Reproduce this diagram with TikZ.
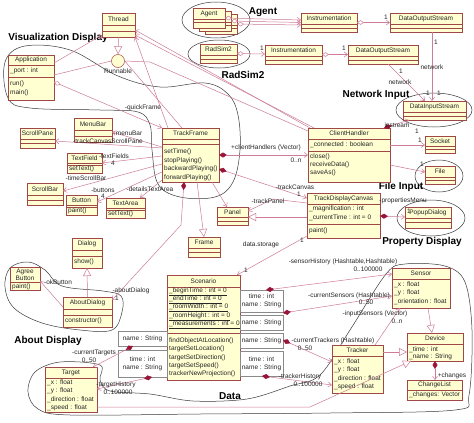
\documentclass[tikz,border=0pt]{standalone}
\usepackage{fontspec}
\setmainfont{Liberation Sans}
\usetikzlibrary{arrows.meta}
\definecolor{cfill}{HTML}{FFFFD2}
\definecolor{cdraw}{HTML}{A04848}
\definecolor{lcol}{HTML}{CC7C96}
\definecolor{dcol}{HTML}{9A1438}
\definecolor{qdraw}{HTML}{8A8A8A}
\definecolor{rcol}{HTML}{3A3A3A}
\tikzset{
 clsbox/.style={draw=cdraw, fill=cfill, line width=0.5pt, inner sep=0pt, outer sep=0pt, rectangle},
 qbox/.style={draw=qdraw, fill=white, line width=0.5pt, inner sep=0pt, outer sep=0pt, rectangle},
 sepl/.style={draw=cdraw, line width=0.4pt},
 ct/.style={font=\fontsize{6.5}{8}\selectfont, inner sep=0pt, text=black!85},
 rl/.style={font=\bfseries\fontsize{10}{12}\selectfont, inner sep=0pt},
 region/.style={draw=rcol, line width=0.5pt},
 conn/.style={draw=lcol, line width=0.5pt},
 nav/.style={conn, -{Straight Barb[length=3.5pt,width=5pt]}},
 hdn/.style={conn, {Diamond[open,fill=white,length=7pt,width=4.5pt]}-{Straight Barb[length=3.5pt,width=5pt]}},
 fdn/.style={conn, {Diamond[color=dcol,length=8pt,width=5pt]}-{Straight Barb[length=3.5pt,width=5pt]}},
 gen/.style={conn, -{Triangle[open,fill=white,length=8pt,width=8pt]}},
}
\newcommand\ubox[5]{\node[clsbox,anchor=north west,minimum width=#4pt,minimum height=#5pt] (#1) at (#2,#3) {};}
\newcommand\qqbox[5]{\node[qbox,anchor=north west,minimum width=#4pt,minimum height=#5pt] (#1) at (#2,#3) {};}
\newcommand\usep[2]{\draw[sepl] ([yshift=-#2pt]#1.north west) -- ([yshift=-#2pt]#1.north east);}
\newcommand\cname[4]{\node[ct] (#1) at ([yshift=-#3pt]#2.north) {#4};}
\newcommand\catt[4]{\node[ct,anchor=west] (#1) at ([xshift=2pt,yshift=-#3pt]#2.north west) {#4};}
\begin{document}
\begin{tikzpicture}[x=1pt,y=-1pt]
\useasboundingbox (0,0) rectangle (474,423);
\fill[white] (0,0) rectangle (474,423);

% ---------- regions ----------
\draw[region] plot[smooth cycle, tension=0.6] coordinates {(5,62) (25,46) (70,50) (118,76) (160,87) (205,83) (228,94) (238,115) (240,150) (233,182) (215,197) (180,197) (158,184) (152,150) (150,125) (138,112) (100,110) (30,108) (8,98)};
\draw[region] (216,20) ellipse [x radius=34pt, y radius=18pt];
\draw[region] (219,54) ellipse [x radius=31pt, y radius=14pt];
\draw[region] (434,110) ellipse [x radius=38pt, y radius=17pt];
\draw[region] (439,176) ellipse [x radius=24pt, y radius=16pt];
\draw[region] (431,218) ellipse [x radius=34pt, y radius=18pt];
\draw[region] plot[smooth cycle, tension=0.6] coordinates {(103,291) (62,286) (45,270) (28,262) (10,268) (5,287) (14,308) (42,323) (80,330) (112,330) (122,312) (121,296)};
\draw[region] plot[smooth cycle, tension=0.55] coordinates {(100,365) (60,362) (35,372) (28,392) (38,409) (70,415) (200,414) (330,413) (455,410) (469,395) (472,330) (465,282) (445,266) (405,264) (386,274) (350,330) (320,375) (290,386) (247,399) (193,401) (150,394) (110,391) (100,380)};

\node[rl] (lvis) at (58,38) {Visualization Display};
\node[rl] (lagent) at (263,12) {Agent};
\node[rl] (lrad) at (243,75) {RadSim2};
\node[rl] (lnet) at (376,95) {Network Input};
\node[rl] (lfile) at (401,187) {File Input};
\node[rl] (lprop) at (422,242) {Property Display};
\node[rl] (labout) at (48,341) {About Display};
\node[rl] (ldata) at (230,396) {Data};

% ---------- classes ----------
\ubox{thread}{102}{13}{33}{24}\usep{thread}{12}\usep{thread}{18}
\cname{thread-n}{thread}{6}{Thread}
\node[draw=cdraw, fill=cfill, circle, minimum size=13pt, inner sep=0pt, line width=0.5pt] (runnable) at (118,61) {};
\node[ct] (runnable-l) at (118,71.5) {Runnable};

\ubox{application}{8}{55}{46}{45}\usep{application}{10}\usep{application}{22}
\cname{app-n}{application}{5}{Application}
\catt{app-a}{application}{16}{\_port : int}
\catt{app-m1}{application}{29}{run()}
\catt{app-m2}{application}{38}{main()}

\ubox{agent3}{205}{14}{32}{20}\usep{agent3}{11}\usep{agent3}{14}
\ubox{agent2}{199}{11}{32}{20}\usep{agent2}{11}\usep{agent2}{14}
\ubox{agent}{193}{8}{32}{20}\usep{agent}{11}\usep{agent}{14}
\cname{agent-n}{agent}{5.5}{Agent}

\ubox{instr1}{301}{13}{56}{19}\usep{instr1}{11}\usep{instr1}{15}
\cname{instr1-n}{instr1}{5.5}{Instrumentation}
\ubox{dos1}{390}{13}{72}{19}\usep{dos1}{11}\usep{dos1}{15}
\cname{dos1-n}{dos1}{5.5}{DataOutputStream}
\ubox{radsim}{200}{44}{37}{19}\usep{radsim}{11}\usep{radsim}{15}
\cname{radsim-n}{radsim}{5.5}{RadSim2}
\ubox{instr2}{265}{45}{57}{19}\usep{instr2}{11}\usep{instr2}{15}
\cname{instr2-n}{instr2}{5.5}{Instrumentation}
\ubox{dos2}{348}{45}{70}{19}\usep{dos2}{11}\usep{dos2}{15}
\cname{dos2-n}{dos2}{5.5}{DataOutputStream}
\ubox{dis}{403}{101}{63}{19}\usep{dis}{11}\usep{dis}{15}
\cname{dis-n}{dis}{5.5}{DataInputStream}

\ubox{client}{308}{128}{82}{54}\usep{client}{11}\usep{client}{23}
\cname{client-n}{client}{5.5}{ClientHandler}
\catt{client-a}{client}{17}{\_connected : boolean}
\catt{client-m1}{client}{29}{close()}
\catt{client-m2}{client}{37}{receiveData()}
\catt{client-m3}{client}{45}{saveAs()}
\ubox{socket}{425}{136}{30}{17}\usep{socket}{10}\usep{socket}{13.5}
\cname{socket-n}{socket}{5}{Socket}
\ubox{file}{425}{166}{30}{18}\usep{file}{11}\usep{file}{14.5}
\cname{file-n}{file}{5.5}{File}

\ubox{tdc}{307}{193}{73}{45}\usep{tdc}{11}\usep{tdc}{31}
\cname{tdc-n}{tdc}{5.5}{TrackDisplayCanvas}
\catt{tdc-a1}{tdc}{16}{\_magnification : int}
\catt{tdc-a2}{tdc}{25}{\_currentTime : int = 0}
\catt{tdc-m1}{tdc}{38}{paint()}
\ubox{popup}{405}{207}{46}{21}\usep{popup}{11}\usep{popup}{15.5}
\cname{popup-n}{popup}{5.5}{PopupDialog}

\ubox{trackframe}{162}{128}{57}{54}\usep{trackframe}{11}\usep{trackframe}{16}
\cname{tf-n}{trackframe}{5.5}{TrackFrame}
\catt{tf-m1}{trackframe}{24}{setTime()}
\catt{tf-m2}{trackframe}{32.5}{stopPlaying()}
\catt{tf-m3}{trackframe}{41}{backwardPlaying()}
\catt{tf-m4}{trackframe}{49.5}{forwardPlaying()}

\ubox{menubar}{74}{118}{38}{24}\usep{menubar}{12}\usep{menubar}{18}
\cname{menubar-n}{menubar}{6}{MenuBar}
\ubox{scrollpane}{20}{128}{35}{20}\usep{scrollpane}{11}\usep{scrollpane}{15.5}
\cname{scrollpane-n}{scrollpane}{5.5}{ScrollPane}
\ubox{textfield}{67}{153}{35}{20}\usep{textfield}{10}\usep{textfield}{12}
\cname{textfield-n}{textfield}{5}{TextField}
\catt{textfield-m}{textfield}{16}{setText()}
\ubox{scrollbar}{27}{183}{36}{22}\usep{scrollbar}{12}\usep{scrollbar}{17}
\cname{scrollbar-n}{scrollbar}{6}{ScrollBar}
\ubox{button}{66}{195}{31}{20}\usep{button}{10}\usep{button}{12}
\cname{button-n}{button}{5}{Button}
\catt{button-m}{button}{16}{paint()}
\ubox{textarea}{106}{198}{39}{20}\usep{textarea}{10}\usep{textarea}{12}
\cname{textarea-n}{textarea}{5}{TextArea}
\catt{textarea-m}{textarea}{16}{setText()}

\ubox{dialog}{72}{238}{30}{30}\usep{dialog}{12}\usep{dialog}{18}
\cname{dialog-n}{dialog}{6}{Dialog}
\catt{dialog-m}{dialog}{24}{show()}
\ubox{aboutdlg}{63}{297}{49}{30}\usep{aboutdlg}{12}\usep{aboutdlg}{18}
\cname{aboutdlg-n}{aboutdlg}{6}{AboutDialog}
\catt{aboutdlg-m}{aboutdlg}{24}{constructor()}
\ubox{agree}{10}{267}{30}{23}\usep{agree}{15.5}
\node[ct, align=center] (agree-n) at ([yshift=-8pt]agree.north) {Agree\\[-1pt]Button};
\catt{agree-m}{agree}{19.5}{paint()}

\ubox{frame}{188}{237}{32}{20}\usep{frame}{11}\usep{frame}{15.5}
\cname{frame-n}{frame}{5.5}{Frame}
\ubox{panel}{217}{207}{31}{18}\usep{panel}{10}\usep{panel}{14}
\cname{panel-n}{panel}{5}{Panel}

\ubox{scenario}{167}{275}{73}{105}\usep{scenario}{12}\usep{scenario}{58}
\cname{scen-n}{scenario}{6}{Scenario}
\catt{scen-a1}{scenario}{16.5}{\underline{\_beginTime : int = 0}}
\catt{scen-a2}{scenario}{24.8}{\underline{\_endTime : int = 0}}
\catt{scen-a3}{scenario}{33.1}{\underline{\_roomWidth : int = 0}}
\catt{scen-a4}{scenario}{41.4}{\underline{\_roomHeight : int = 0}}
\catt{scen-a5}{scenario}{49.7}{\underline{\_measurements : int = 0}}
\catt{scen-m1}{scenario}{66}{findObjectAtLocation()}
\catt{scen-m2}{scenario}{74.3}{targetSetLocation()}
\catt{scen-m3}{scenario}{82.6}{targetSetDirection()}
\catt{scen-m4}{scenario}{90.9}{targetSetSpeed()}
\catt{scen-m5}{scenario}{99.2}{trackerNewProjection()}

\qqbox{ql1}{118}{331}{49}{15}\node[ct] (ql1-t) at (ql1.center) {name : String};
\qqbox{ql2}{118}{350}{49}{27}\node[ct, align=center] (ql2-t) at (ql2.center) {time : int\\name : String};
\qqbox{q1}{240}{290}{43}{22}\node[ct, align=center] (q1-t) at (q1.center) {time : int\\name : String};
\qqbox{q2}{240}{315}{43}{15}\node[ct] (q2-t) at (q2.center) {name : String};
\qqbox{q3}{240}{333}{43}{15}\node[ct] (q3-t) at (q3.center) {name : String};
\qqbox{q4}{240}{351}{43}{25}\node[ct, align=center] (q4-t) at (q4.center) {time : int\\name : String};

\ubox{target}{45}{367}{52}{45}\usep{target}{11}
\cname{target-n}{target}{5.5}{Target}
\catt{target-a1}{target}{16}{\_x : float}
\catt{target-a2}{target}{24}{\_y : float}
\catt{target-a3}{target}{32.5}{\_direction : float}
\catt{target-a4}{target}{40.5}{\_speed : float}

\ubox{sensor}{392}{268}{58}{40}\usep{sensor}{11}
\cname{sensor-n}{sensor}{5.5}{Sensor}
\catt{sensor-a1}{sensor}{17}{\_x : float}
\catt{sensor-a2}{sensor}{25}{\_y : float}
\catt{sensor-a3}{sensor}{33.5}{\_orientation : float}
\ubox{device}{407}{333}{56}{28}\usep{device}{11}
\cname{device-n}{device}{5.5}{Device}
\catt{device-a1}{device}{16.5}{\_time : int}
\catt{device-a2}{device}{24}{\_name : String}
\ubox{changelist}{407}{380}{55}{20}\usep{changelist}{10}
\cname{cl-n}{changelist}{5}{ChangeList}
\catt{cl-a1}{changelist}{15}{\_changes: Vector}
\ubox{tracker}{332}{345}{51}{48}\usep{tracker}{11}
\cname{tracker-n}{tracker}{5.5}{Tracker}
\catt{tracker-a1}{tracker}{17}{\_x : float}
\catt{tracker-a2}{tracker}{25}{\_y : float}
\catt{tracker-a3}{tracker}{33.5}{\_direction : float}
\catt{tracker-a4}{tracker}{41.5}{\_speed : float}

% ---------- connectors ----------
% top area
\draw[nav] ([shift={(0,8)}]application.north east) -- ([shift={(0,22)}]thread.north west);
\draw[conn] ([shift={(0,20)}]application.north east) -- (runnable.west);
\draw[gen] (thread.south) -- (runnable.north);
\draw[nav] ([shift={(2,0)}]client.north west) -- ([shift={(0,17)}]thread.north east);
\draw[nav] ([shift={(6,0)}]client.north west) -- ([shift={(0,22)}]thread.north east);
\draw[conn] (runnable.east) -- (150,62) -- ([shift={(0,3)}]client.north west);
\draw[nav] ([shift={(6,0)}]trackframe.north west) -- (thread.south east);
\draw[conn] ([shift={(20,0)}]trackframe.north west) -- (runnable.east);
\draw[hdn] ([shift={(0,27)}]application.north east) -- (trackframe.north west);
\node[ct] (l-qf) at (143,108) {-quickFrame};

\draw[hdn] (agent.east) -- ([shift={(0,7)}]instr1.north west);
\draw[hdn] (agent2.east) -- ([shift={(0,9.5)}]instr1.north west);
\draw[hdn] (agent3.east) -- ([shift={(0,12)}]instr1.north west);
\draw[hdn] (instr1.east) -- (dos1.west);
\node[ct] (l-1a) at (386,17) {1};
\draw[hdn] (radsim.east) -- ([shift={(0,-0.5)}]instr2.west);
\node[ct] (l-1b) at (262,48) {1};
\draw[hdn] (instr2.east) -- (dos2.west);
\node[ct] (l-1c) at (344,48) {1};
\draw[nav] ([shift={(42,0)}]dos1.south west) -- ([shift={(29,0)}]dis.north west);
\node[ct] (l-1d) at (436,42) {1};
\node[ct] (l-net1) at (432,67) {network};
\node[ct] (l-1e) at (439,93) {1};
\draw[nav] ([shift={(40,0)}]dos2.south west) -- ([shift={(22,0)}]dis.north west);
\node[ct] (l-1f) at (401,71) {1};
\node[ct] (l-net2) at (400,82) {network};
\node[ct] (l-1g) at (428,93) {1};

\draw[fdn] ([shift={(-6,0)}]client.north east) -- ([shift={(6,0)}]dis.south west);
\node[ct] (l-instream) at (397,125) {instream};
\node[ct] (l-1h) at (417,131) {1};
\draw[nav] ([shift={(0,17)}]client.north east) -- ([shift={(0,9)}]socket.north west);
\node[ct] (l-1i) at (420,140) {1};
\draw[nav] ([shift={(0,37)}]client.north east) -- ([shift={(0,6)}]file.north west);
\node[ct] (l-1j) at (422,164) {1};

\draw[fdn] ([shift={(0,27)}]trackframe.north east) -- ([shift={(0,27)}]client.north west);
\node[ct] (l-ch) at (266,148) {+clientHandlers (Vector)};
\node[ct] (l-0n) at (296,160) {0..n};
\draw[fdn] ([shift={(0,41)}]trackframe.north east) -- ([shift={(0,5)}]tdc.north west);
\node[ct] (l-tc) at (295,187) {-trackCanvas};
\node[ct] (l-1k) at (299,194) {1};
\draw[nav] ([shift={(0,10)}]tdc.north west) -- (273,199) -- ([shift={(0,4)}]panel.north east);
\node[ct] (l-tp) at (268,201) {-trackPanel};
\draw[gen] ([shift={(0,24)}]tdc.north west) -- ([shift={(0,10)}]panel.north east);
\draw[fdn] ([shift={(0,23)}]tdc.north east) -- ([shift={(0,10)}]popup.north west);
\node[ct] (l-pm) at (403,201) {-propertiesMenu};
\node[ct] (l-1l) at (409,211) {1};

\draw[nav] ([shift={(50,0)}]trackframe.south west) -- ([shift={(10,0)}]panel.north west);
\draw[gen] ([shift={(35,0)}]trackframe.south west) -- (frame.north);
\draw[fdn] ([shift={(22,0)}]trackframe.south west) -- (181,225) -- ([shift={(0,3)}]aboutdlg.north east);
\node[ct] (l-ad) at (131,291) {-aboutDialog};
\node[ct] (l-1m) at (117,298) {1};
\draw[gen] (aboutdlg.north) -- (dialog.south);
\draw[nav] ([shift={(0,10)}]aboutdlg.north west) -- ([shift={(0,14)}]agree.north east);
\node[ct] (l-ok) at (58,282) {-okButton};

\draw[nav] ([shift={(0,19)}]trackframe.north west) -- ([shift={(0,14)}]menubar.north east);
\draw[nav] ([shift={(0,20)}]trackframe.north west) -- ([shift={(0,13)}]scrollpane.north east);
\node[ct] (l-mb) at (128,133) {-menuBar};
\node[ct] (l-tcs) at (108,141) {-trackCanvasScrollPane};
\draw[nav] ([shift={(0,28)}]trackframe.north west) -- ([shift={(0,10)}]textfield.north east);
\node[ct] (l-tfs) at (114,156) {-textFields};
\node[ct] (l-4a) at (113,163) {4};
\draw[nav] ([shift={(0,36)}]trackframe.north west) -- ([shift={(0,8)}]scrollbar.north east);
\node[ct] (l-tsb) at (86,178) {-timeScrollBar};
\draw[nav] ([shift={(0,44)}]trackframe.north west) -- ([shift={(0,7)}]button.north east);
\node[ct] (l-bt) at (103,190) {-buttons};
\node[ct] (l-4b) at (103,196) {4};
\draw[nav] ([shift={(0,52)}]trackframe.north west) -- ([shift={(34,0)}]textarea.north west);
\node[ct] (l-dta) at (150,189) {-detailsTextArea};

% data area
\draw[nav] ([shift={(0,-2)}]tdc.south west) -- ([shift={(-3,0)}]scenario.north east);
\node[ct] (l-ds) at (261,245) {data.storage};
\node[ct] (l-1n) at (302,240) {1};
\node[ct] (l-1o) at (246,270) {1};
\draw[fdn] ([shift={(15,0)}]ql1.south west) -- ([shift={(48,0)}]target.north west);
\node[ct] (l-ct) at (94,353) {-currentTargets};
\node[ct] (l-050a) at (89,360) {0..50};
\draw[fdn] ([shift={(34,0)}]ql2.south west) -- ([shift={(0,22)}]target.north east);
\node[ct] (l-th) at (116,385) {-targetHistory};
\node[ct] (l-1e5a) at (118,392) {0..100000};
\draw[gen] ([shift={(0,40)}]target.north east) -- (310,407) -- ([shift={(4,0)}]device.south west);
\draw[gen] ([shift={(0,7)}]tracker.north east) -- ([shift={(0,19)}]device.north west);
\draw[gen] ([shift={(36,0)}]sensor.south west) -- ([shift={(25,0)}]device.north west);
\draw[fdn] ([shift={(28,0)}]device.south west) -- ([shift={(28,0)}]changelist.north west);
\node[ct] (l-chg) at (452,376) {+changes};
\draw[nav] ([shift={(43,0)}]tracker.north west) -- ([shift={(8,0)}]sensor.south west);
\node[ct] (l-is) at (375,314) {-inputSensors (Vector)};
\node[ct] (l-0nb) at (397,321) {0..n};
\draw[fdn] ([shift={(26,0)}]q1.north west) -- ([shift={(0,6)}]sensor.north west);
\node[ct] (l-sh) at (343,262) {-sensorHistory (Hashtable,Hashtable)};
\node[ct] (l-1e5b) at (368,269) {0..100000};
\draw[fdn] ([shift={(0,-2)}]q2.north east) -- ([shift={(0,28)}]sensor.north west);
\node[ct] (l-cs) at (349,296) {-currentSensors (Hashtable)};
\node[ct] (l-050b) at (366,302) {0..50};
\draw[fdn] ([shift={(0,7)}]q3.north east) -- ([shift={(0,17)}]tracker.north west);
\node[ct] (l-ctr) at (333,341) {-currentTrackers (Hashtable)};
\node[ct] (l-050c) at (305,348) {0..50};
\draw[fdn] ([shift={(22,0)}]q4.south west) -- ([shift={(0,40)}]tracker.north west);
\node[ct] (l-trh) at (300,377) {-trackerHistory};
\node[ct] (l-1e5c) at (308,384) {0..100000};
\end{tikzpicture}
\end{document}
